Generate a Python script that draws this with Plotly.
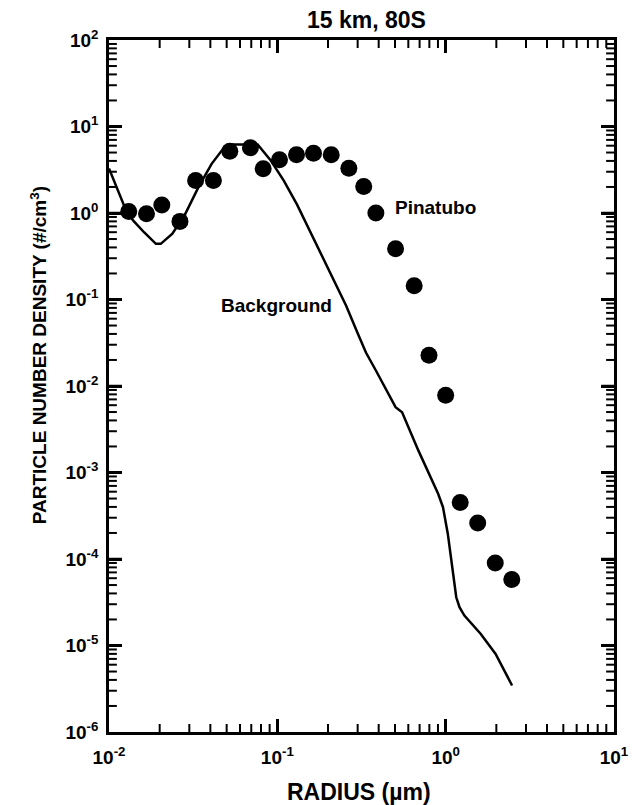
import plotly.graph_objects as go

# Pinatubo measurements (dots)
pin_r = [0.0131, 0.0167, 0.0206, 0.0264, 0.0327, 0.0417, 0.0522, 0.0692, 0.0824, 0.103,
         0.130, 0.164, 0.209, 0.266, 0.326, 0.385, 0.504, 0.650, 0.796, 1.00,
         1.22, 1.55, 1.97, 2.47]
pin_n = [1.04, 0.98, 1.24, 0.80, 2.38, 2.38, 5.18, 5.67, 3.24, 4.12,
         4.71, 4.91, 4.71, 3.30, 2.02, 1.00, 0.386, 0.144, 0.0227, 0.00783,
         4.5e-4, 2.6e-4, 9.0e-5, 5.8e-5]

# Background size distribution (line)
bg_r = [0.0100, 0.0124, 0.0139, 0.0162, 0.0190, 0.0203, 0.0238, 0.0284, 0.0340, 0.0407,
        0.0488, 0.0531, 0.0638, 0.0764, 0.0914, 0.109, 0.131, 0.164, 0.205, 0.256,
        0.301, 0.336, 0.385, 0.504, 0.551, 0.689, 0.902, 0.964, 1.03, 1.156,
        1.208, 1.292, 1.617, 1.98, 2.48]
bg_n = [3.27, 1.17, 0.82, 0.595, 0.44, 0.44, 0.575, 0.98, 1.99, 3.70,
        5.87, 6.2, 6.2, 6.2, 4.04, 2.38, 1.25, 0.507, 0.205, 0.0853,
        0.0401, 0.0244, 0.0151, 0.00569, 0.00498, 0.00179, 5.67e-4, 3.97e-4, 1.95e-4, 3.61e-5,
        2.77e-5, 2.22e-5, 1.36e-5, 8.0e-6, 3.45e-6]

x_decades = [-2, -1, 0, 1]
y_decades = [-6, -5, -4, -3, -2, -1, 0, 1, 2]


def sup_label(e):
    return "10<sup>%d</sup>" % e


x_tickvals = [10.0 ** e for e in x_decades]
x_ticktext = [sup_label(e) for e in x_decades]
y_tickvals = [10.0 ** e for e in y_decades]
y_ticktext = [sup_label(e) for e in y_decades]

x_minor = [m * 10.0 ** e for e in x_decades[:-1] for m in range(2, 10)]
y_minor = [m * 10.0 ** e for e in y_decades[:-1] for m in range(2, 10)]

FONT = "Liberation Sans, Arial, sans-serif"
XR = [x_decades[0], x_decades[-1]]
YR = [y_decades[0], y_decades[-1]]

W, H = 641, 805
ML, MR, MT, MB = 109, 19, 40, 73
px_per_dec_x = (W - ML - MR) / (XR[1] - XR[0])
px_per_dec_y = (H - MT - MB) / (YR[1] - YR[0])

fig = go.Figure()
fig.add_trace(go.Scatter(x=bg_r, y=bg_n, mode="lines",
                         line=dict(color="black", width=2.5), showlegend=False,
                         hoverinfo="skip"))
fig.add_trace(go.Scatter(x=pin_r, y=pin_n, mode="markers",
                         marker=dict(color="black", size=17, line=dict(width=0)),
                         showlegend=False))


# inward tick marks on all four sides, drawn as cap-less error bars of a fixed pixel length
def tick_traces(vals, length, width):
    fy_up = 10 ** (length / px_per_dec_y)
    fx_up = 10 ** (length / px_per_dec_x)
    ybot, ytop = 10.0 ** YR[0], 10.0 ** YR[1]
    xl, xr = 10.0 ** XR[0], 10.0 ** XR[1]
    xv, yv = vals
    common = dict(mode="markers", marker=dict(size=1, opacity=0), showlegend=False,
                  hoverinfo="skip", cliponaxis=False)
    if xv:
        n = len(xv)
        fig.add_trace(go.Scatter(x=xv, y=[ybot] * n, **common,
                                 error_y=dict(type="data", symmetric=False,
                                              array=[ybot * (fy_up - 1)] * n,
                                              arrayminus=[0] * n, width=0,
                                              thickness=width, color="black")))
        fig.add_trace(go.Scatter(x=xv, y=[ytop] * n, **common,
                                 error_y=dict(type="data", symmetric=False,
                                              array=[0] * n,
                                              arrayminus=[ytop * (1 - 1 / fy_up)] * n,
                                              width=0, thickness=width, color="black")))
    if yv:
        n = len(yv)
        fig.add_trace(go.Scatter(x=[xl] * n, y=yv, **common,
                                 error_x=dict(type="data", symmetric=False,
                                              array=[xl * (fx_up - 1)] * n,
                                              arrayminus=[0] * n, width=0,
                                              thickness=width, color="black")))
        fig.add_trace(go.Scatter(x=[xr] * n, y=yv, **common,
                                 error_x=dict(type="data", symmetric=False,
                                              array=[0] * n,
                                              arrayminus=[xr * (1 - 1 / fx_up)] * n,
                                              width=0, thickness=width, color="black")))


tick_traces((x_minor, y_minor), 8, 2)
tick_traces((x_tickvals[1:-1], y_tickvals[1:-1]), 13, 2.5)

axis_common = dict(
    type="log", showgrid=False, zeroline=False,
    showline=True, linecolor="black", linewidth=2.5, mirror="ticks",
    ticks="inside", tickcolor="black", tickmode="array",
    ticklen=13, tickwidth=2.5,
    tickfont=dict(family=FONT, size=19, color="black", weight="bold"),
)
fig.update_layout(
    xaxis=dict(**axis_common, range=XR, tickvals=x_tickvals, ticktext=x_ticktext,
               ticklabelstandoff=6),
    yaxis=dict(**axis_common, range=YR, tickvals=y_tickvals, ticktext=y_ticktext,
               ticklabelstandoff=4),
)

fig.add_annotation(x=0.509, y=1, xref="paper", yref="paper", yanchor="middle", yshift=20,
                   text="15 km, 80S", showarrow=False,
                   font=dict(family=FONT, size=23, color="black", weight="bold"))
fig.add_annotation(x=-0.1676, y=0.545, xref="paper", yref="paper", textangle=-90,
                   text="PARTICLE NUMBER DENSITY (#/cm<sup>3</sup>)", showarrow=False,
                   font=dict(family=FONT, size=19, color="black", weight="bold"))
fig.add_annotation(x=0.495, y=-0.0867, xref="paper", yref="paper", yanchor="middle",
                   text="RADIUS (\u00b5m)", showarrow=False,
                   font=dict(family=FONT, size=23, color="black", weight="bold"))
fig.add_annotation(x=-0.31, y=0.064, xref="x", yref="y", xanchor="left", yanchor="middle",
                   text="Pinatubo", showarrow=False,
                   font=dict(family=FONT, size=19, color="black", weight="bold"))
fig.add_annotation(x=-1.006, y=-1.069, xref="x", yref="y", xanchor="center", yanchor="middle",
                   text="Background", showarrow=False,
                   font=dict(family=FONT, size=19, color="black", weight="bold"))

fig.update_layout(
    width=W, height=H,
    margin=dict(l=ML, r=MR, t=MT, b=MB),
    paper_bgcolor="white", plot_bgcolor="white",
    font=dict(family=FONT, color="black"),
)

fig.write_html("out.html")
